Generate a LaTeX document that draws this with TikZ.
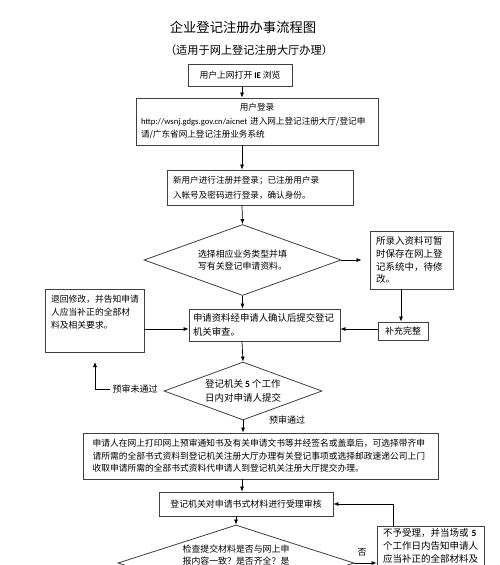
\documentclass[tikz,border=0pt]{standalone}
\usepackage{fontspec}
\setmainfont{Noto Sans CJK SC}
\newfontfamily\lat{Carlito}
\usetikzlibrary{shapes.geometric,arrows.meta}
\tikzset{
  box/.style={draw=black!75, line width=0.8pt, rectangle, align=left, inner ysep=2pt},
  dia/.style={draw=black!75, line width=0.8pt, diamond, inner sep=0pt, align=center},
  arr/.style={-{Latex[length=5pt,width=4pt]}, line width=0.7pt, draw=black},
  lbl/.style={font=\fontsize{9}{12}\selectfont, inner sep=2pt}
}
\begin{document}
\begin{tikzpicture}[x=1pt,y=-1pt]
\useasboundingbox (0,0) rectangle (500,565);
\clip (0,0) rectangle (500,565);
\fill[white] (0,0) rectangle (500,565);
\coordinate (ax) at (242,0);
\coordinate (ax2) at (401,0);
\coordinate (ay) at (0,329);
\coordinate (lt) at (95,362);
\coordinate (rx) at (393,0);

\node[font=\fontsize{13.3}{16}\selectfont] (title) at (243,27) {企业登记注册办事流程图};
\node[font=\fontsize{11.2}{14}\selectfont] (sub) at (249,50) {（适用于网上登记注册大厅办理）};

\node[box, align=center, minimum width=104pt, minimum height=22pt, font=\fontsize{8.8}{12}\selectfont] (b1) at (240,75) {用户上网打开 {\lat\bfseries IE} 浏览};

\node[box, inner xsep=5pt, text width=232pt, minimum height=47pt, font=\fontsize{8.6}{13.5}\selectfont] (b2) at (257,121.5)
  {\makebox[\linewidth][c]{用户登录}\\{\lat http://wsnj.gdgs.gov.cn/aicnet} 进入网上登记注册大厅/登记申\\请/广东省网上登记注册业务系统};

\node[box, inner xsep=6pt, text width=174pt, minimum height=35pt, font=\fontsize{8.6}{15}\selectfont] (b3) at (260,187.5)
  {新用户进行注册并登录；已注册用户录\\入帐号及密码进行登录，确认身份。};

\node[dia, aspect=2.77, minimum width=197pt, minimum height=71pt, font=\fontsize{8.9}{12}\selectfont] (d1) at (242.5,260)
  {选择相应业务类型并填\\写有关登记申请资料。};

\node[box, inner xsep=6pt, text width=71pt, minimum height=58pt, font=\fontsize{9.5}{12.8}\selectfont] (rb) at (411.5,260)
  {所录入资料可暂\\时保存在网上登\\记系统中，待修\\改。};

\node[box, align=center, minimum width=50pt, minimum height=18pt, font=\fontsize{9}{12}\selectfont] (bc) at (403,331) {补充完整};

\node[box, inner xsep=4pt, text width=143pt, minimum height=32pt, font=\fontsize{9.4}{14}\selectfont] (b4) at (264.5,325)
  {申请资料经申请人确认后提交登记\\机关审查。};

\node[box, inner xsep=6pt, text width=87pt, minimum height=63pt, font=\fontsize{8.8}{13}\selectfont] (lb) at (94.5,320.5)
  {退回修改，并告知申请\\人应当补正的全部材\\料及相关要求。\\\strut};

\node[dia, aspect=2.72, minimum width=158pt, minimum height=58pt, font=\fontsize{9.5}{14}\selectfont, align=left] (d2) at (243,391)
  {登记机关 {\lat\bfseries 5} 个工作\\日内对申请人提交};

\node[lbl] (l1) at (135,389) {预审未通过};
\node[lbl] (l2) at (287,420) {预审通过};

\node[box, inner xsep=9.5pt, text width=336pt, minimum height=46pt, font=\fontsize{8.75}{12.5}\selectfont] (b5) at (260.5,456)
  {申请人在网上打印网上预审通知书及有关申请文书等并经签名或盖章后，可选择带齐申\\请所需的全部书式资料到登记机关注册大厅办理有关登记事项或选择邮政速递公司上门\\收取申请所需的全部书式资料代申请人到登记机关注册大厅提交办理。};

\node[box, align=center, minimum width=174pt, minimum height=24pt, font=\fontsize{8.9}{12}\selectfont] (b6) at (246,504)
  {登记机关对申请书式材料进行受理审核};

\node[dia, aspect=3.1, minimum width=236pt, minimum height=76pt, font=\fontsize{8.9}{12.5}\selectfont] (d3) at (236,563)
  {检查提交材料是否与网上申\\报内容一致？是否齐全？是\\\strut};

\node[lbl] (l3) at (362,552) {否};

\node[box, anchor=north, inner xsep=6pt, inner ysep=2pt, text width=95pt, font=\fontsize{9.5}{13.2}\selectfont] (b7) at (430.5,526)
  {不予受理，并当场或 {\lat\bfseries 5}\\个工作日内告知申请人\\应当补正的全部材料及\\\strut\\\strut};

% connectors
\draw[arr] (b1.south -| ax) -- (b2.north -| ax);
\draw[arr] (b2.south -| ax) -- (b3.north -| ax);
\draw[arr] (b3.south -| ax) -- (d1.north);
\draw[arr] (d1.south) -- (b4.north -| d1.south);
\draw[arr] (d1.east) -- ([xshift=-8pt]rb.west);
\draw[arr] (rb.south -| ax2) -- (bc.north -| ax2);
\draw[arr] (bc.west |- ay) -- (b4.east |- ay);
\draw[arr] (lb.east |- ay) -- (b4.west |- ay);
\draw[arr] (b4.south -| ax) -- (d2.north);
\draw[arr] (l1.west) -| (lt);
\draw[arr] (d2.south) -- (b5.north -| d2.south);
\draw[arr] (b5.south -| ax) -- (b6.north -| ax);
\draw[arr] (b6.south -| d3.north) -- (d3.north);
\draw[arr] (d3.east) -- (d3.east -| b7.west);
\draw[arr] (b7.north -| rx) |- (b6.east);
\end{tikzpicture}
\end{document}
